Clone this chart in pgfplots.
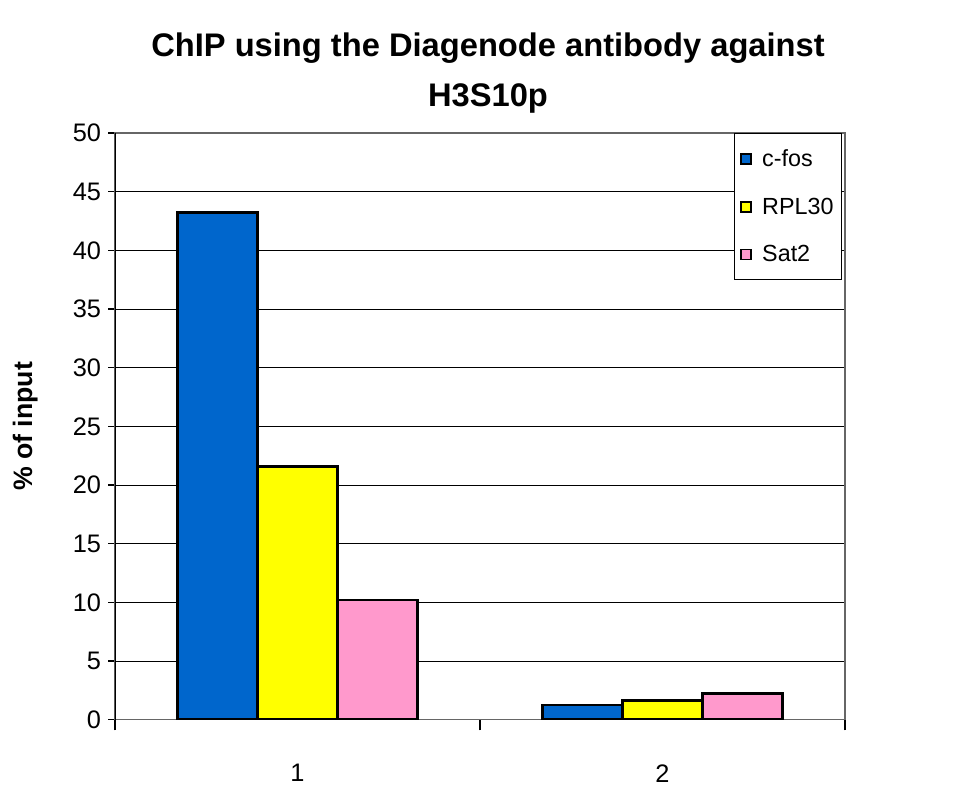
\documentclass[border=0pt]{standalone}
\usepackage{pgfplots}
\pgfplotsset{compat=1.18}
\usepackage{fontspec}
\setmainfont{Liberation Sans}
\definecolor{cblue}{RGB}{0,102,204}
\definecolor{cyellow}{RGB}{255,255,0}
\definecolor{cpink}{RGB}{255,153,204}
\begin{document}
\begin{tikzpicture}
\begin{axis}[
  name=ax,
  at={(0,0)}, anchor=south west,
  scale only axis,
  width=547.5pt, height=440pt,
  xmin=0, xmax=2, ymin=0, ymax=50,
  ybar=0pt, bar width=60pt,
  ytick={0,5,...,50},
  xtick={0.5,1.5}, xticklabels={1,2},
  minor xtick={0,1,2},
  major x tick style={draw=none},
  minor x tick style={black, line width=0.8pt},
  minor tick length=8pt,
  major tick length=5pt,
  tick align=outside,
  xtick pos=bottom, ytick pos=left,
  y tick style={black, line width=0.8pt},
  ymajorgrids, grid style={black, line width=0.6pt},
  axis line style={gray!80!black, line width=1.2pt},
  /pgf/number format/assume math mode=true,
  ticklabel style={font=\fontsize{19}{22}\selectfont},
  xticklabel style={yshift=-25pt},
  yticklabel style={xshift=-2pt},
  ylabel={\textbf{\% of input}},
  ylabel style={at={(axis description cs:-0.123,0.5)}, anchor=center, font=\fontsize{20}{24}\selectfont},
  legend style={at={(rel axis cs:0.996,1)}, anchor=north east, draw=black, line width=0.8pt,
    font=\fontsize{17.5}{22}\selectfont, row sep=18pt, inner xsep=4pt, inner ysep=10pt,
    legend cell align=left},
  legend image code/.code={\draw[#1, draw=black, line width=1.2pt] (0pt,-3.8pt) rectangle (7.5pt,3.8pt); \path (13pt,0pt);},
]
\addplot[fill=cblue, draw=black, line width=2.2pt] coordinates {(0.5,43.2) (1.5,1.25)};
\addplot[fill=cyellow, draw=black, line width=2.2pt] coordinates {(0.5,21.6) (1.5,1.6)};
\addplot[fill=cpink, draw=black, line width=2.2pt] coordinates {(0.5,10.2) (1.5,2.25)};
\legend{c-fos,RPL30,Sat2}
\draw[black, line width=1.2pt] (rel axis cs:0,0) -- (rel axis cs:0,1);
\end{axis}
\node[align=center, font=\bfseries\fontsize{24.5}{37}\selectfont] at ([xshift=6pt, yshift=45pt]ax.north) {ChIP using the Diagenode antibody against\\H3S10p};
\path[use as bounding box] ([xshift=-86.25pt,yshift=-61.5pt]ax.south west) rectangle ([xshift=84.75pt,yshift=99.75pt]ax.north east);
\end{tikzpicture}
\end{document}
